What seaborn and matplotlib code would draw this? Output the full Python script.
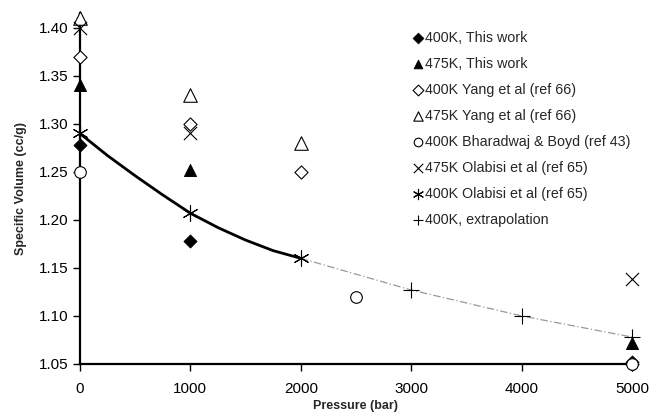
import matplotlib
matplotlib.use("Agg")
import matplotlib.pyplot as plt
import seaborn as sns
import pandas as pd

sns.set_theme(style="white")
plt.rcParams['font.family'] = ['Liberation Sans', 'DejaVu Sans']

# ---- data ----
p_this400 = [0, 1000, 5000]
v_this400 = [1.278, 1.178, 1.052]
p_this475 = [0, 1000, 5000]
v_this475 = [1.340, 1.252, 1.072]
p_yang400 = [0, 1000, 2000, 5000]
v_yang400 = [1.370, 1.300, 1.250, 1.050]
p_yang475 = [0, 1000, 2000]
v_yang475 = [1.410, 1.330, 1.280]
p_bhar400 = [0, 2500, 5000]
v_bhar400 = [1.250, 1.120, 1.050]
p_olab475 = [0, 1000, 5000]
v_olab475 = [1.400, 1.290, 1.138]
p_olab400 = [0, 1000, 2000]
v_olab400 = [1.290, 1.207, 1.160]
p_extra = [3000, 4000, 5000]
v_extra = [1.127, 1.100, 1.078]

# fitted curve
p_fit = [0, 250, 500, 750, 1000, 1250, 1500, 1750, 2000]
v_fit = [1.290, 1.267, 1.246, 1.226, 1.207, 1.192, 1.179, 1.168, 1.160]
# extrapolated dashed line
p_ext_line = [2000, 3000, 4000, 5000]
v_ext_line = [1.160, 1.127, 1.100, 1.078]

labels = ["400K, This work", "475K, This work", "400K Yang et al (ref 66)",
          "475K Yang et al (ref 66)", "400K Bharadwaj & Boyd (ref 43)",
          "475K Olabisi et al (ref 65)", "400K Olabisi et al (ref 65)",
          "400K, extrapolation"]

fig = plt.figure(figsize=(6.55, 4.15), dpi=100)
ax = fig.add_axes([0.122, 0.123, 0.843, 0.846])

sns.lineplot(x=p_fit, y=v_fit, ax=ax, color="black", lw=2.0, zorder=2)
sns.lineplot(x=p_ext_line, y=v_ext_line, ax=ax, color="#999999", lw=0.9,
             dashes=False, zorder=2, linestyle=(0, (6, 2, 1, 2)))

series = [
    (p_this400, v_this400, dict(marker="D", s=45, color="black", edgecolor="black")),
    (p_this475, v_this475, dict(marker="^", s=75, color="black", edgecolor="black")),
    (p_yang400, v_yang400, dict(marker="D", s=45, facecolor="white", edgecolor="black", linewidth=0.8)),
    (p_yang475, v_yang475, dict(marker="^", s=95, facecolor="white", edgecolor="black", linewidth=0.8)),
    (p_bhar400, v_bhar400, dict(marker="o", s=70, facecolor="white", edgecolor="black", linewidth=0.8)),
    (p_olab475, v_olab475, dict(marker="x", s=90, color="black", linewidth=0.8)),
    (p_olab400, v_olab400, dict(marker=(6, 2, 0), s=120, color="black", linewidth=0.8)),
    (p_extra, v_extra, dict(marker="+", s=130, color="black", linewidth=0.8)),
]
for (px, py, kw), lab in zip(series, labels):
    sns.scatterplot(x=px, y=py, ax=ax, label=lab, zorder=3, clip_on=False, **kw)

ax.set_xlim(0, 5000)
ax.set_ylim(1.05, 1.4156)
ax.set_xticks([0, 1000, 2000, 3000, 4000, 5000])
ax.set_yticks([1.05, 1.10, 1.15, 1.20, 1.25, 1.30, 1.35, 1.40])
ax.set_yticklabels([f"{v:.2f}" for v in [1.05, 1.10, 1.15, 1.20, 1.25, 1.30, 1.35, 1.40]])

for s in ["top", "right"]:
    ax.spines[s].set_visible(False)
for s in ["left", "bottom"]:
    ax.spines[s].set_color("black")
    ax.spines[s].set_linewidth(1.6)
ax.tick_params(axis="both", direction="out", length=5, width=1.0, color="black",
               labelsize=11, labelcolor="black", left=True, bottom=True)
ax.tick_params(axis="x", pad=8)

ax.set_xlabel("Pressure (bar)", fontsize=9, fontweight="bold", labelpad=3)
ax.set_ylabel("Specific Volume (cc/g)", fontsize=9, fontweight="bold", labelpad=8)

leg = ax.legend(loc="upper left", bbox_to_anchor=(0.62, 0.94), bbox_transform=fig.transFigure,
                frameon=False, fontsize=10.3, handletextpad=0.1, handlelength=0.8,
                labelspacing=0.84, borderaxespad=0)
leg_sizes = [30, 38, 30, 45, 38, 45, 55, 60]
for h, sz in zip(leg.legend_handles, leg_sizes):
    h.set_sizes([sz])

fig.savefig("out.png", dpi=100)
